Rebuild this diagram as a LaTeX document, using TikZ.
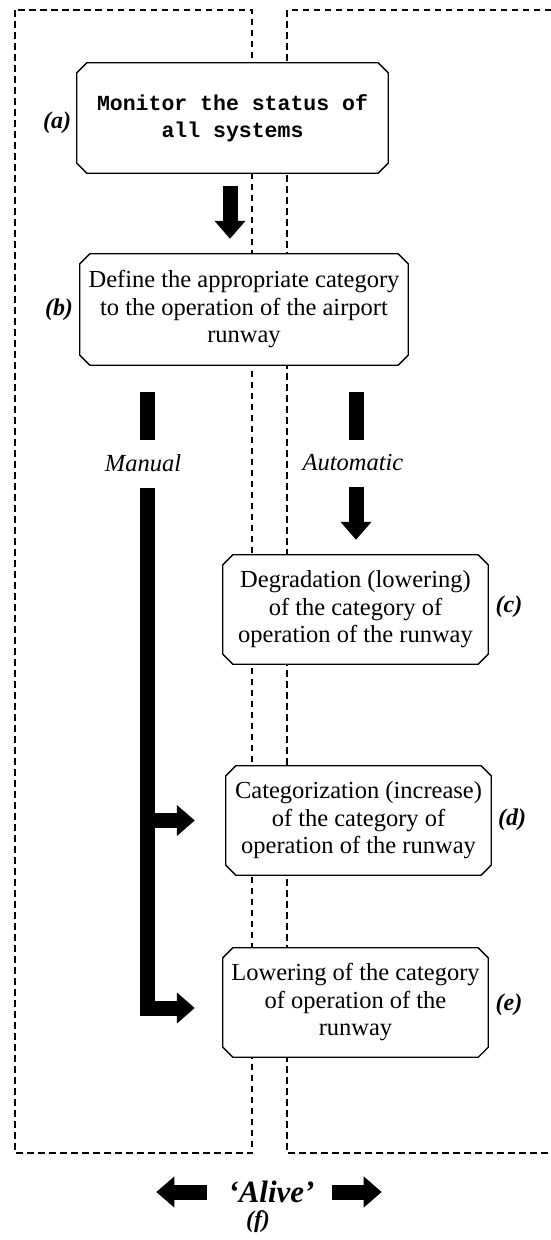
\documentclass[tikz,border=0pt]{standalone}
\usepackage{fontspec}
\setmainfont{Liberation Serif}
\setmonofont{Liberation Mono}
\usetikzlibrary{arrows.meta}
% outline with cut corners around a named stage node
\newcommand\chamferoutline[1]{%
  \draw[outline]
    ([xshift=10pt]#1.north west) -- ([xshift=-10pt]#1.north east)
    -- ([yshift=-10pt]#1.north east) -- ([yshift=10pt]#1.south east)
    -- ([xshift=-10pt]#1.south east) -- ([xshift=10pt]#1.south west)
    -- ([yshift=10pt]#1.south west) -- ([yshift=-10pt]#1.north west) -- cycle;}
\begin{document}
\begin{tikzpicture}[x=1pt,y=-1pt,
  stage/.style={rectangle, fill=white, align=center, inner sep=0pt,
    font=\fontsize{24.5}{27.5}\selectfont},
  monostage/.style={stage, font=\ttfamily\bfseries\fontsize{21.5}{27}\selectfont},
  outline/.style={line width=1.3pt, line join=miter},
  tag/.style={font=\bfseries\itshape\fontsize{24}{28}\selectfont, inner sep=0pt},
  branch/.style={font=\itshape\fontsize{24.5}{28}\selectfont, inner sep=0pt},
  lane/.style={line width=1.1pt, dash pattern=on 6.5pt off 4.5pt},
  bar/.style={line width=15pt},
  bigarrow/.style={line width=15pt, line join=miter,
    -{Triangle[length=18pt,width=30pt]}}]
\useasboundingbox (0,0) rectangle (551,1240);

% two dashed lanes
\draw[lane] (15,10) rectangle (252,1153);
\draw[lane] (551,10) -- (287,10) -- (287,1153) -- (551,1153);

% process stages
\node[monostage, minimum width=311pt, minimum height=110pt] (a) at (232.5,118)
  {Monitor the status of\\all systems};
\node[stage, minimum width=328pt, minimum height=111pt] (b) at (244,309.5)
  {Define the appropriate category\\to the operation of the airport\\runway};
\node[stage, minimum width=265pt, minimum height=109pt] (c) at (355.5,609.5)
  {Degradation (lowering)\\of the category of\\operation of the runway};
\node[stage, minimum width=265pt, minimum height=109pt] (d) at (358.5,820.5)
  {Categorization (increase)\\of the category of\\operation of the runway};
\node[stage, minimum width=265pt, minimum height=109pt] (e) at (355.5,1002.5)
  {Lowering of the category\\of operation of the\\runway};
\chamferoutline{a}
\chamferoutline{b}
\chamferoutline{c}
\chamferoutline{d}
\chamferoutline{e}

% stage tags
\node[tag] (ta) at (57,123) {(a)};
\node[tag] (tb) at (59,310) {(b)};
\node[tag] (tc) at (509,607) {(c)};
\node[tag] (td) at (512,820) {(d)};
\node[tag] (te) at (509,1005) {(e)};

% branch labels
\node[branch] (man) at (143,463) {Manual};
\node[branch] (aut) at (353,463) {Automatic};

% monitor -> define
\draw[bigarrow] ([xshift=-2.5pt,yshift=-13pt]a.south) -- ([xshift=-14pt,yshift=15pt]b.north);

% manual branch
\coordinate (m1) at (147.5,392);
\coordinate (m2) at (147.5,440);
\coordinate (m3) at (147.5,488);
\draw[bar] (m1) -- (m2);
\draw[bigarrow] (m3) |- ([xshift=-28pt,yshift=-5.5pt]e.west);
\draw[bigarrow] (m3 |- d.west) -- ([xshift=-31pt]d.west);

% automatic branch
\coordinate (n1) at (356,392);
\coordinate (n2) at (356,440);
\coordinate (n3) at (356,487);
\draw[bar] (n1) -- (n2);
\draw[bigarrow] (n3) -- ([yshift=15pt]c.north -| n3);

% keep-alive signal
\node[font=\bfseries\itshape\fontsize{31}{34}\selectfont, inner sep=0pt] (alive) at (271.5,1192) {‘Alive’};
\draw[bigarrow] ([xshift=-21pt]alive.west) -- ++(-51,0);
\draw[bigarrow] ([xshift=17pt]alive.east) -- ++(50,0);
\node[tag] (tf) at (258,1222) {(f)};
\end{tikzpicture}
\end{document}
